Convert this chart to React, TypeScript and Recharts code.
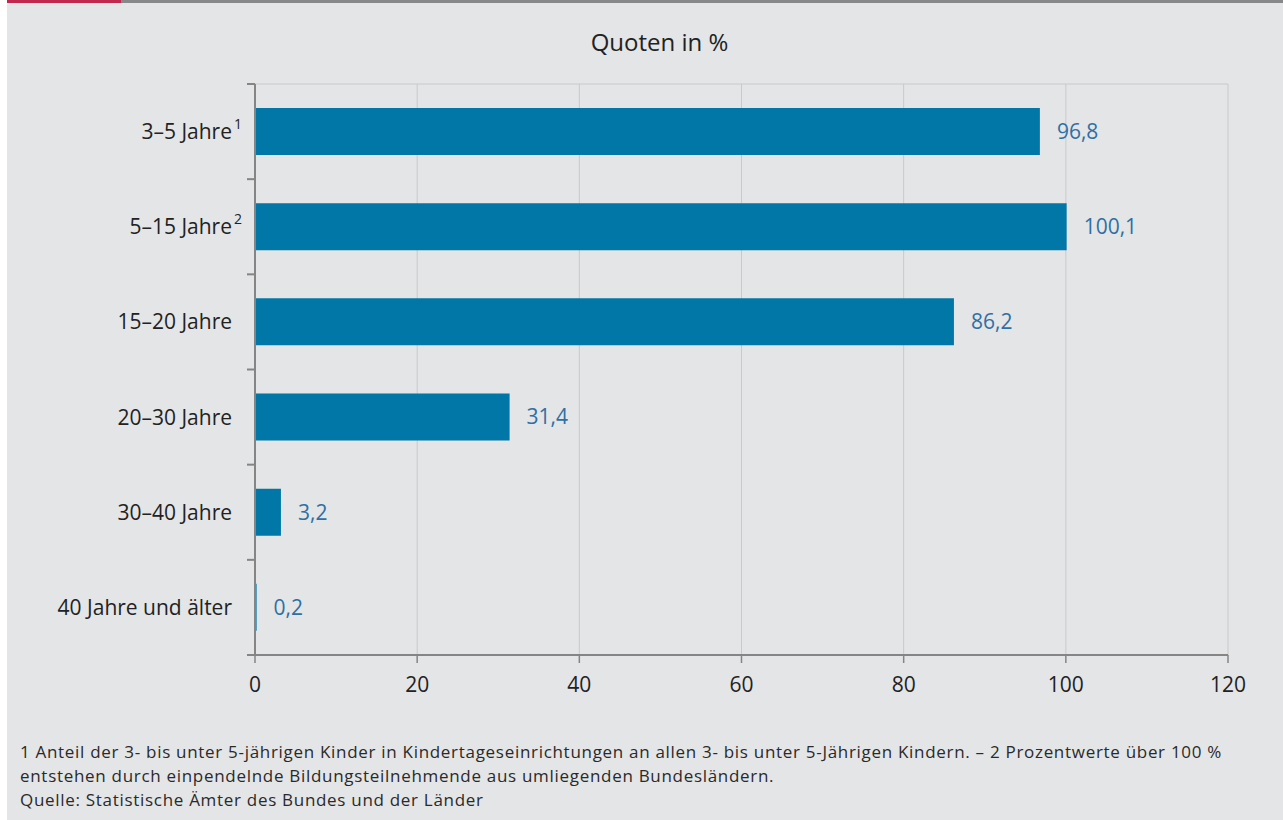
import React from "react";
import { BarChart, Bar, XAxis, YAxis, CartesianGrid, LabelList } from "recharts";

const categories = ["3–5 Jahre", "5–15 Jahre", "15–20 Jahre", "20–30 Jahre", "30–40 Jahre", "40 Jahre und älter"];
const superscripts = ["1", "2", "", "", "", ""];
const values = [96.8, 100.1, 86.2, 31.4, 3.2, 0.2];
const xTicks = [0, 20, 40, 60, 80, 100, 120];
const title = "Quoten in %";
const footnotes = [
  "1 Anteil der 3- bis unter 5-jährigen Kinder in Kindertageseinrichtungen an allen 3- bis unter 5-Jährigen Kindern. – 2 Prozentwerte über 100 %",
  "entstehen durch einpendelnde Bildungsteilnehmende aus umliegenden Bundesländern.",
  "Quelle: Statistische Ämter des Bundes und der Länder",
];

const data = categories.map((name, i) => ({ name, sup: superscripts[i], value: values[i] }));

const FONT = "'Open Sans', 'Noto Sans', sans-serif";
const W = 1276;
const H = 720;
const MARGIN = { top: 84, right: 55, left: 0, bottom: 25 };
const Y_AXIS_W = 248;
const X_AXIS_H = 40;
const PLOT_H = H - MARGIN.top - MARGIN.bottom - X_AXIS_H;
const BAND = PLOT_H / categories.length;
const AXIS_COLOR = "#858585";
const TEXT = "#222222";

const YTick = (props: any) => {
  const { y, payload, index } = props;
  const axisX = MARGIN.left + Y_AXIS_W;
  const i = categories.indexOf(payload.value);
  const sup = superscripts[i] || "";
  const labelX = axisX - 23;
  return (
    <g>
      {index === 0 && (
        <line x1={axisX - 8} x2={axisX} y1={y - BAND / 2} y2={y - BAND / 2} stroke={AXIS_COLOR} strokeWidth={2} />
      )}
      <line x1={axisX - 8} x2={axisX} y1={y + BAND / 2} y2={y + BAND / 2} stroke={AXIS_COLOR} strokeWidth={2} />
      <text x={labelX} y={y} dy="0.355em" textAnchor="end" fontSize={21} fill={TEXT} fontFamily={FONT}>
        {payload.value}
      </text>
      {sup && (
        <text x={labelX + 2} y={y} dy={-2.5} textAnchor="start" fontSize={14} fill={TEXT} fontFamily={FONT}>
          {sup}
        </text>
      )}
    </g>
  );
};

const fmt = (v: any) => String(v).replace(".", ",");

export default function App() {
  return (
    <div style={{ position: "absolute", left: 7, top: 0, width: W, height: 820, background: "#e4e5e7", overflow: "hidden" }}>
      <div style={{ position: "absolute", left: 0, top: 0, width: 114, height: 3, background: "#c0294d" }} />
      <div style={{ position: "absolute", left: 114, top: 0, width: W - 114, height: 3, background: "#87888a" }} />
      <div style={{ position: "absolute", left: 0, top: 0 }}>
        <BarChart width={W} height={H} data={data} layout="vertical" margin={MARGIN} barCategoryGap={0}>
          <CartesianGrid
            stroke="#c9c9c9"
            strokeWidth={1}
            vertical={true}
            horizontal={true}
            horizontalCoordinatesGenerator={({ offset }: any) => [offset.top]}
          />
          <XAxis
            type="number"
            domain={[0, 120]}
            ticks={xTicks}
            height={X_AXIS_H}
            axisLine={{ stroke: AXIS_COLOR, strokeWidth: 2 }}
            tickLine={{ stroke: AXIS_COLOR, strokeWidth: 1.5 }}
            tickSize={8}
            tickMargin={14}
            tick={{ fontSize: 21, fill: TEXT, fontFamily: FONT }}
            interval={0}
          />
          <YAxis
            type="category"
            dataKey="name"
            width={Y_AXIS_W}
            axisLine={{ stroke: AXIS_COLOR, strokeWidth: 2 }}
            tickLine={false}
            tick={<YTick />}
            interval={0}
          />
          <Bar dataKey="value" fill="#0077a6" barSize={47} isAnimationActive={false}>
            <LabelList
              dataKey="value"
              position="right"
              offset={17}
              formatter={fmt}
              style={{ fontSize: 21, fill: "#2e70a4", fontFamily: FONT }}
            />
          </Bar>
        </BarChart>
      </div>
      <svg width={W} height={820} style={{ position: "absolute", left: 0, top: 0, pointerEvents: "none" }}>
        <text x={652.5} y={51} textAnchor="middle" fontSize={24} fill={TEXT} fontFamily={FONT}>
          {title}
        </text>
        {footnotes.map((t, i) => (
          <text key={i} x={13} y={758 + i * 24} fontSize={17} letterSpacing={0.7} fill="#2a2a2a" fontFamily={FONT}>
            {t}
          </text>
        ))}
      </svg>
    </div>
  );
}
